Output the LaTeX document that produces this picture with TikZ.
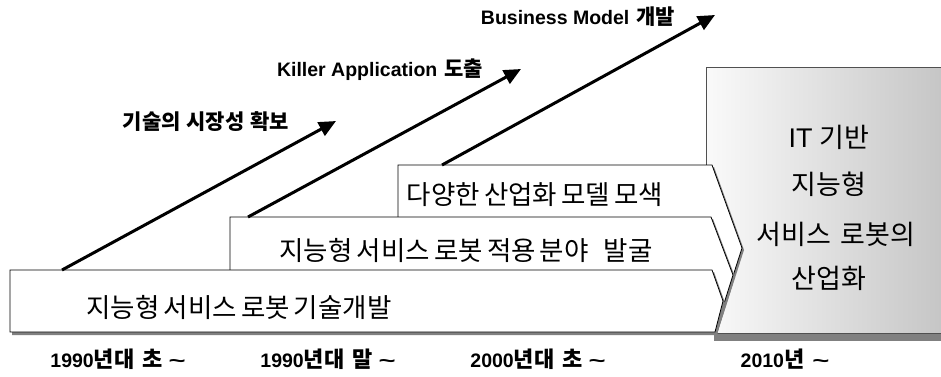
\documentclass[tikz,border=0pt]{standalone}
\usepackage{fontspec}
\setmainfont{Noto Sans CJK KR}[WordSpace=0.7]
\newfontfamily\lat{Liberation Sans}
\usetikzlibrary{arrows.meta}
\definecolor{shadowgray}{HTML}{808080}
\definecolor{edgegray}{HTML}{505050}
\tikzset{
  chev/.style={draw=black, line width=0.8pt, fill=white, line join=miter},
  chevshadow/.style={fill=shadowgray, draw=none},
  boxtext/.style={font=\fontsize{26.5}{30}\selectfont, inner sep=0pt},
  graytext/.style={font=\fontsize{27}{30}\selectfont, inner sep=0pt},
  arrowlabel/.style={font=\bfseries\fontsize{21}{24}\selectfont, inner sep=0pt},
  yearlabel/.style={font=\bfseries\fontsize{22}{24}\selectfont, inner sep=0pt},
  trend/.style={line width=3pt, -{Triangle[length=17pt,width=15pt]}},
}
\newcommand{\yr}[1]{{\lat\fontsize{19.5}{22}\selectfont #1}}
\newcommand{\tl}{{\lat\fontsize{19.5}{22}\selectfont\scalebox{1.5}[1]{\textasciitilde}}}
\newcommand{\lt}[1]{{\lat\fontsize{19.5}{22}\selectfont #1}}
\begin{document}
\begin{tikzpicture}[x=1pt,y=-1pt]
\useasboundingbox (0,0) rectangle (941,376);
% big gray box with shadow
\fill[shadowgray] (714,74) rectangle (960,341);
\path[left color=white!96!gray, right color=black!24, draw=edgegray, line width=0.9pt] (706,67) rectangle (960,333);
\node (gbox) at (835,200) {};
% chevrons (top one first)
\fill[chevshadow] (400,167) -- (714,167) -- (744,250) -- (717,334) -- (400,334) -- cycle;
\path[chev] (398,165) -- (712,165) -- (742,248) -- (715,332) -- (398,332) -- cycle;
\fill[chevshadow] (232,219) -- (713,219) -- (735,277) -- (717,334) -- (232,334) -- cycle;
\path[chev] (230,217) -- (711,217) -- (733,275) -- (715,332) -- (230,332) -- cycle;
\fill[chevshadow] (12,272) -- (714,272) -- (725,303) -- (717,335) -- (12,335) -- cycle;
\path[chev] (10,270) -- (712,270) -- (723,301) -- (715,332) -- (10,332) -- cycle;
% texts in chevrons
\node[boxtext] (t3) at (535,195) {다양한 산업화 모델 모색};
\node[boxtext] (t2) at (466,250) {지능형 서비스 로봇 적용 분야\hspace{15pt}발굴};
\node[boxtext] (t1) at (239,307) {지능형 서비스 로봇 기술개발};
% gray box text
\node[graytext] (g1) at (829,137) {{\lat IT}\hspace{7pt}기반};
\node[graytext] (g2) at (829,184) {지능형};
\node[graytext] (g3) at (836,234) {서비스\hspace{9pt}로봇의};
\node[graytext] (g4) at (829,278) {산업화};
% arrows
\coordinate (a1s) at (62,270);
\coordinate (a1e) at (336,121);
\coordinate (a2s) at (248,217);
\coordinate (a2e) at (521,69);
\coordinate (a3s) at (442,165);
\coordinate (a3e) at (715,15);
\draw[trend] (a1s) -- (a1e);
\draw[trend] (a2s) -- (a2e);
\draw[trend] (a3s) -- (a3e);
% arrow labels
\node[arrowlabel] (l1) at (206,122) {기술의\hspace{6pt}시장성\hspace{6pt}확보};
\node[arrowlabel] (l2) at (380,70) {\lt{Killer Application}\hspace{7pt}도출};
\node[arrowlabel] (l3) at (578,17) {\lt{Business Model}\hspace{7pt}개발};
% year labels
\node[yearlabel] (y1) at (118,359) {\yr{1990}년대\hspace{8pt}초\hspace{6pt}\tl};
\node[yearlabel] (y2) at (328,359) {\yr{1990}년대\hspace{8pt}말\hspace{6pt}\tl};
\node[yearlabel] (y3) at (538,359) {\yr{2000}년대\hspace{8pt}초\hspace{6pt}\tl};
\node[yearlabel] (y4) at (785,359) {\yr{2010}년\hspace{8pt}\tl};
\end{tikzpicture}
\end{document}
